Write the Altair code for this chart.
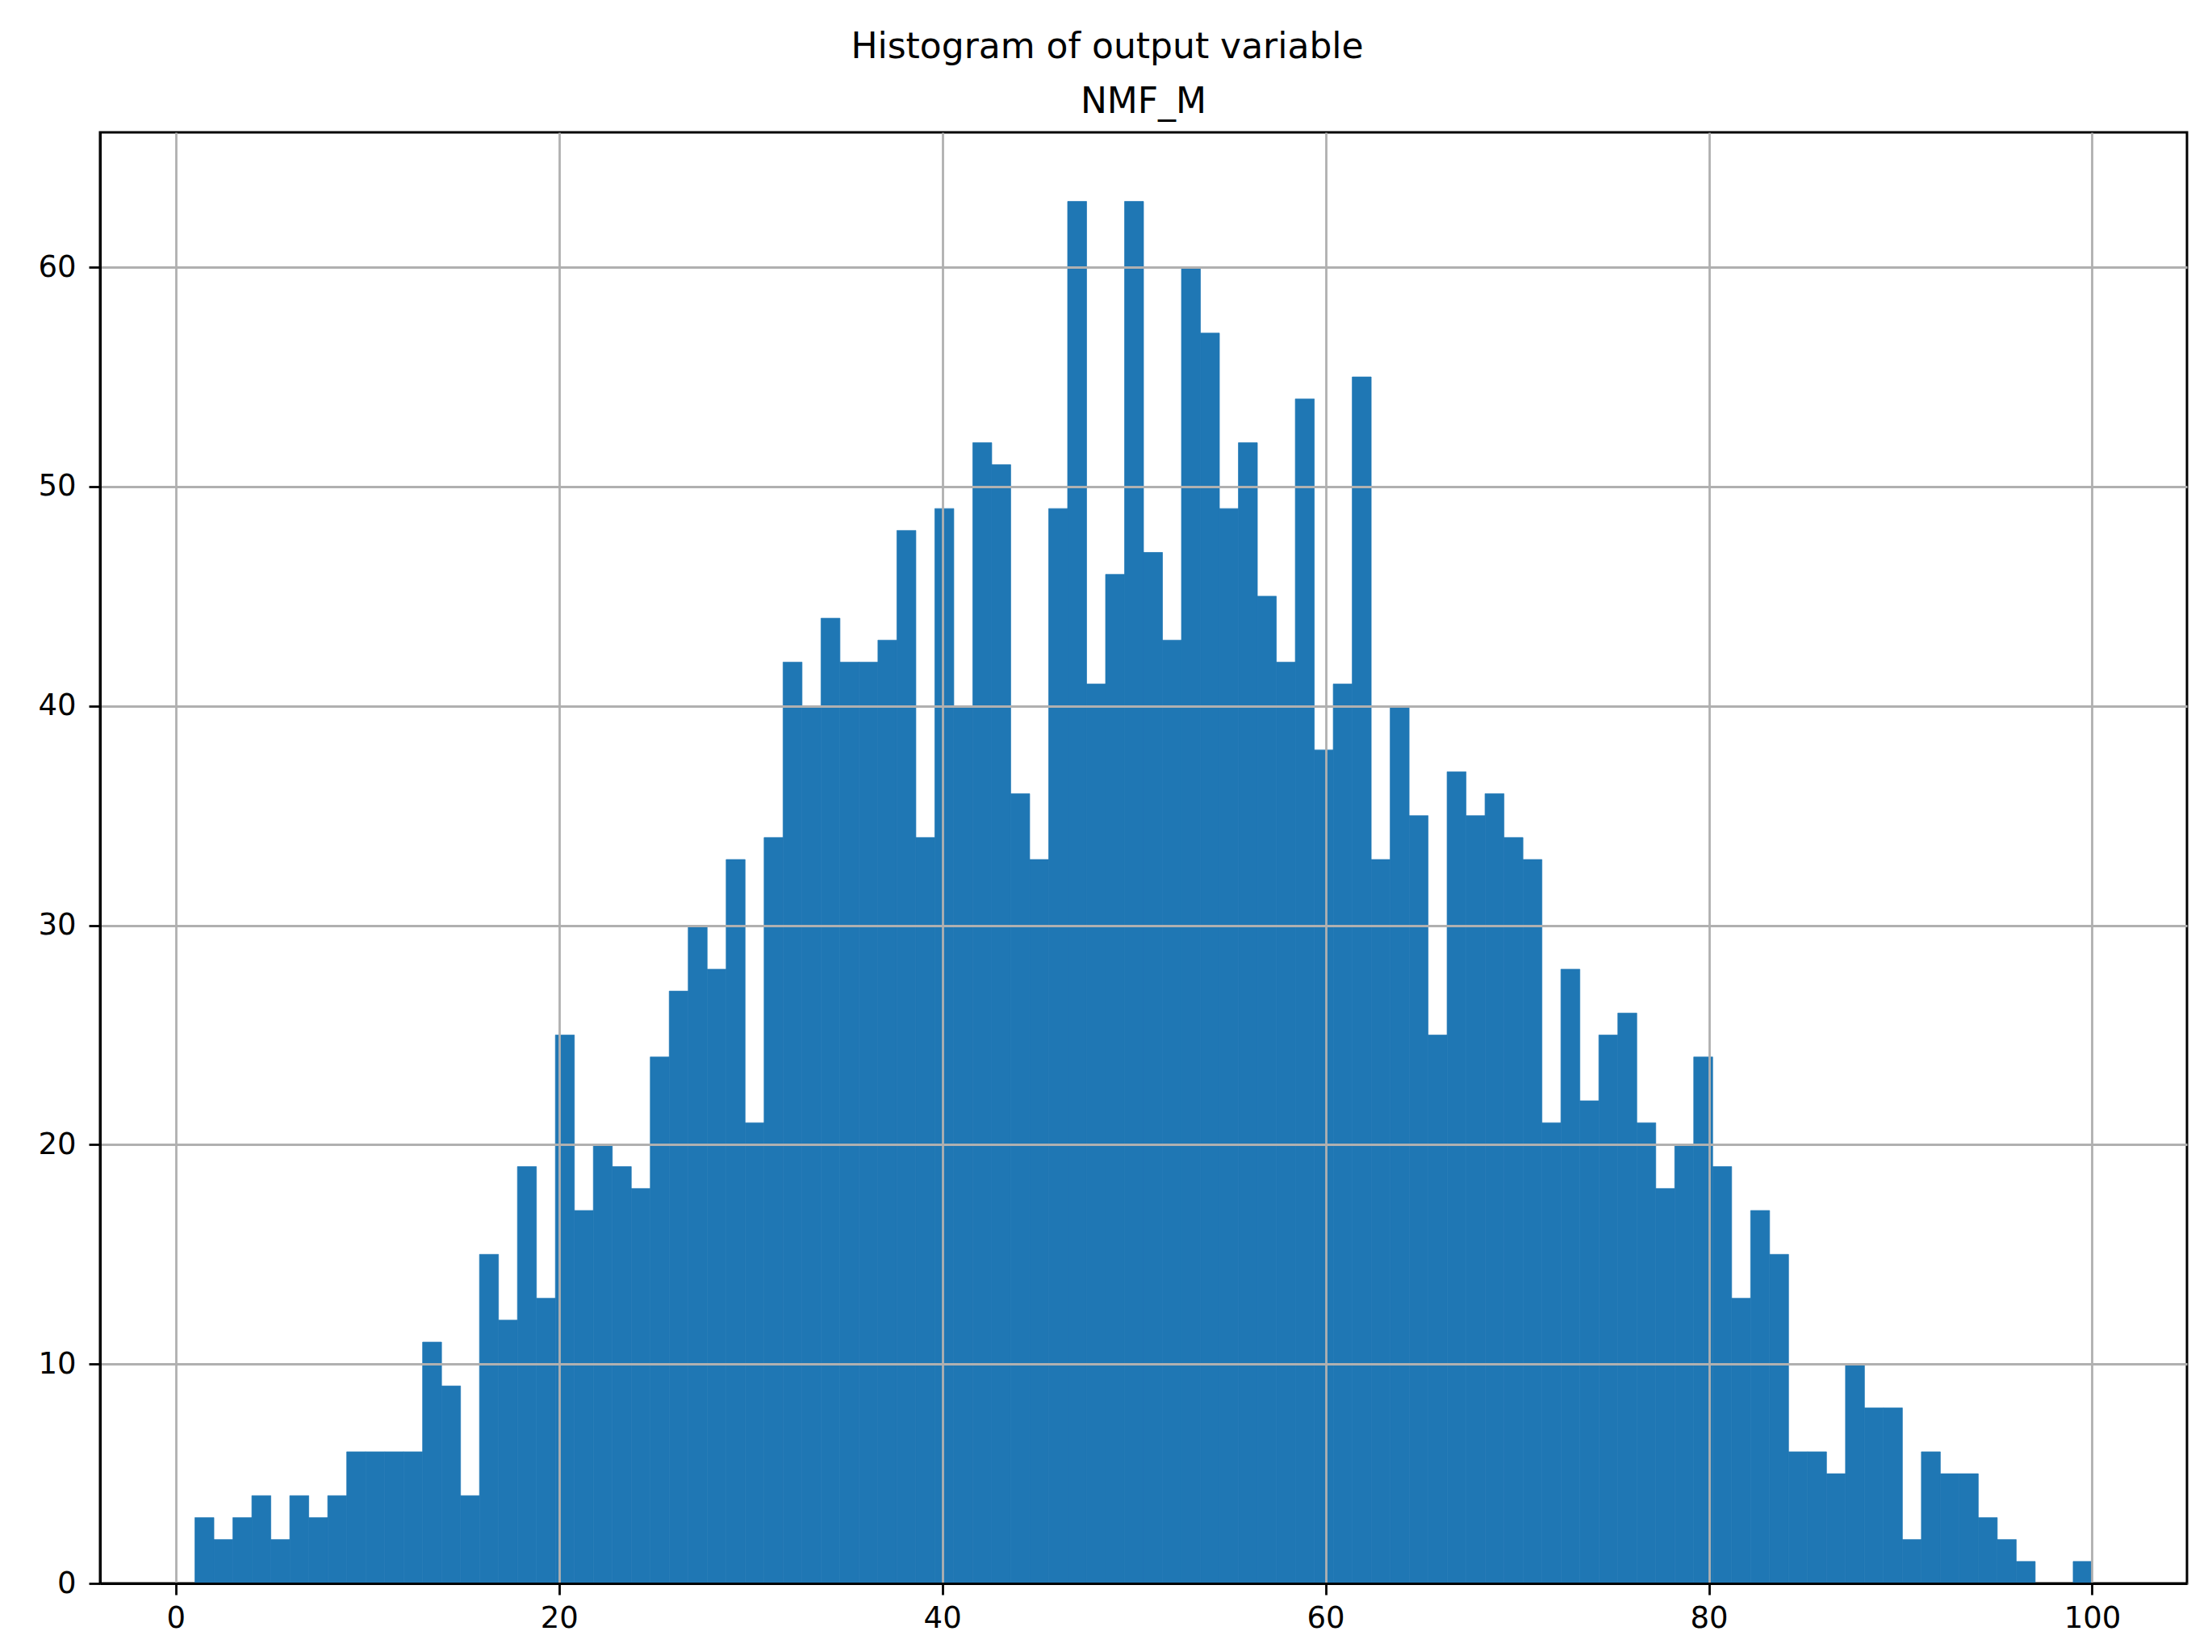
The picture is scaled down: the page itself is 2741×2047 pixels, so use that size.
import altair as alt
import pandas as pd

# integer output values 1..100 and their counts (one bin each)
values = list(range(1, 101))
counts = [3, 2, 3, 4, 2, 4, 3, 4, 6, 6,
          6, 6, 11, 9, 4, 15, 12, 19, 13, 25,
          17, 20, 19, 18, 24, 27, 30, 28, 33, 21,
          34, 42, 40, 44, 42, 42, 43, 48, 34, 49,
          40, 52, 51, 36, 33, 49, 63, 41, 46, 63,
          47, 43, 60, 57, 49, 52, 45, 42, 54, 38,
          41, 55, 33, 40, 35, 25, 37, 35, 36, 34,
          33, 21, 28, 22, 25, 26, 21, 18, 20, 24,
          19, 13, 17, 15, 6, 6, 5, 10, 8, 8,
          2, 6, 5, 5, 3, 2, 1, 0, 0, 1]
x_ticks = [0, 20, 40, 60, 80, 100]
y_ticks = [0, 10, 20, 30, 40, 50, 60]
suptitle = "Histogram of output variable"
axtitle = "NMF_M"

n_bins = 100
lo, hi = min(values), max(values)
step = (hi - lo) / n_bins
df = pd.DataFrame({
    "start": [lo + i * step for i in range(n_bins)],
    "end": [lo + (i + 1) * step for i in range(n_bins)],
    "count": counts,
})
df = df[df["count"] > 0]

pad = (hi - lo) * 0.05
x_dom = [lo - pad, hi + pad]
y_dom = [0, max(counts) * 1.05]

FONT = "DejaVu Sans"
W, H = 2586, 1798

bars = alt.Chart(df).mark_bar(color="#1f77b4", stroke="#1f77b4",
                              strokeWidth=0.7).encode(
    x=alt.X("start:Q",
            scale=alt.Scale(domain=x_dom, nice=False, zero=False),
            axis=alt.Axis(values=x_ticks, title=None, grid=True,
                          gridColor="#b0b0b0", gridWidth=2.8,
                          domainColor="black", domainWidth=3,
                          tickColor="black", tickWidth=2.8, tickSize=14,
                          labelFont=FONT, labelFontSize=37, labelColor="black",
                          labelPadding=11, zindex=1)),
    x2="end:Q",
    y=alt.Y("count:Q",
            scale=alt.Scale(domain=y_dom, nice=False),
            axis=alt.Axis(values=y_ticks, title=None, grid=True,
                          gridColor="#b0b0b0", gridWidth=2.8,
                          domainColor="black", domainWidth=3,
                          tickColor="black", tickWidth=2.8, tickSize=14,
                          labelFont=FONT, labelFontSize=37, labelColor="black",
                          labelPadding=16, zindex=1)),
    y2=alt.datum(0),
)

sup = alt.Chart(pd.DataFrame({"t": [suptitle]})).mark_text(
    font=FONT, fontSize=44, color="black", align="center", baseline="alphabetic"
).encode(text="t:N", x=alt.value(1372 - 124), y=alt.value(72 - 164))

sub = alt.Chart(pd.DataFrame({"t": [axtitle]})).mark_text(
    font=FONT, fontSize=44, color="black", align="center", baseline="alphabetic"
).encode(text="t:N", x=alt.value(W / 2), y=alt.value(140 - 164))

chart = alt.layer(bars, sup, sub).properties(
    width=W, height=H,
    autosize=alt.AutoSizeParams(type="none"),
    padding={"left": 116, "top": 156, "right": 20, "bottom": 70},
).configure(background="white").configure_view(stroke="black", strokeWidth=3)

chart.save("out.html", embed_options={"renderer": "svg", "actions": False})
